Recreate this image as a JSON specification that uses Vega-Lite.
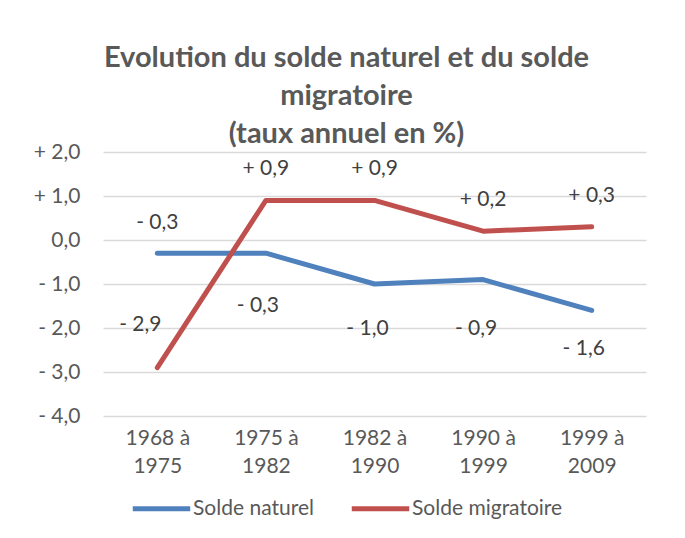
{
  "$schema": "https://vega.github.io/schema/vega-lite/v6.json",
  "autosize": "none",
  "width": 543,
  "height": 264,
  "padding": {"left": 103, "top": 152, "right": 39, "bottom": 122},
  "background": "white",
  "config": {
    "font": "Lato",
    "view": {"stroke": null},
    "title": {"font": "Lato", "fontSize": 29, "fontWeight": "bold", "color": "#595959", "lineHeight": 38},
    "axis": {"labelFont": "Lato", "labelFontSize": 21, "labelColor": "#595959"},
    "legend": {"labelFont": "Lato", "labelFontSize": 21, "labelColor": "#595959"}
  },
  "title": {
    "text": ["Evolution du solde naturel et du solde", "migratoire", "(taux annuel en %)"],
    "anchor": "middle",
    "frame": "group",
    "dx": -28,
    "offset": -8
  },
  "data": {
    "values": [
      {"period": "1968 à 1975", "series": "Solde naturel", "value": -0.3, "label": "- 0,3"},
      {"period": "1975 à 1982", "series": "Solde naturel", "value": -0.3, "label": "- 0,3"},
      {"period": "1982 à 1990", "series": "Solde naturel", "value": -1.0, "label": "- 1,0"},
      {"period": "1990 à 1999", "series": "Solde naturel", "value": -0.9, "label": "- 0,9"},
      {"period": "1999 à 2009", "series": "Solde naturel", "value": -1.6, "label": "- 1,6"},
      {"period": "1968 à 1975", "series": "Solde migratoire", "value": -2.9, "label": "- 2,9"},
      {"period": "1975 à 1982", "series": "Solde migratoire", "value": 0.9, "label": "+ 0,9"},
      {"period": "1982 à 1990", "series": "Solde migratoire", "value": 0.9, "label": "+ 0,9"},
      {"period": "1990 à 1999", "series": "Solde migratoire", "value": 0.2, "label": "+ 0,2"},
      {"period": "1999 à 2009", "series": "Solde migratoire", "value": 0.3, "label": "+ 0,3"}
    ]
  },
  "encoding": {
    "x": {
      "field": "period", "type": "nominal", "sort": null,
      "scale": {"type": "point", "padding": 0.5},
      "axis": {
        "title": null, "domain": false, "ticks": false, "grid": false, "labelAngle": 0,
        "labelPadding": 11, "labelLineHeight": 28,
        "labelExpr": "[slice(datum.label, 0, 6), slice(datum.label, 7)]"
      }
    },
    "y": {
      "field": "value", "type": "quantitative",
      "scale": {"domain": [-4, 2], "nice": false},
      "axis": {
        "title": null, "domain": false, "ticks": false, "values": [-4, -3, -2, -1, 0, 1, 2],
        "gridColor": "#d9d9d9", "gridWidth": 1.5, "labelPadding": 23,
        "labelExpr": "datum.value > 0 ? '+ ' + replace(format(datum.value, '.1f'), '.', ',') : (datum.value < 0 ? '- ' + replace(format(-datum.value, '.1f'), '.', ',') : '0,0')"
      }
    }
  },
  "layer": [
    {
      "mark": {"type": "line", "strokeWidth": 5, "strokeCap": "round", "strokeJoin": "round"},
      "encoding": {
        "color": {
          "field": "series", "type": "nominal",
          "scale": {"domain": ["Solde naturel", "Solde migratoire"], "range": ["#4f81bd", "#c0504d"]},
          "legend": {
            "title": null, "orient": "none", "direction": "horizontal",
            "legendX": 27, "legendY": 325,
            "symbolType": "stroke", "symbolSize": 3300, "symbolStrokeWidth": 5,
            "labelOffset": 0, "columnPadding": 27
          }
        }
      }
    },
    {
      "transform": [{"filter": "datum.series == 'Solde naturel' && datum.period == '1968 à 1975'"}],
      "mark": {"type": "text", "fontSize": 21, "color": "#404040", "dy": -30},
      "encoding": {"text": {"field": "label"}}
    },
    {
      "transform": [{"filter": "datum.series == 'Solde naturel' && datum.period == '1975 à 1982'"}],
      "mark": {"type": "text", "fontSize": 21, "color": "#404040", "dy": 53, "dx": -8},
      "encoding": {"text": {"field": "label"}}
    },
    {
      "transform": [{"filter": "datum.series == 'Solde naturel' && datum.period == '1982 à 1990'"}],
      "mark": {"type": "text", "fontSize": 21, "color": "#404040", "dy": 45, "dx": -7},
      "encoding": {"text": {"field": "label"}}
    },
    {
      "transform": [{"filter": "datum.series == 'Solde naturel' && datum.period == '1990 à 1999'"}],
      "mark": {"type": "text", "fontSize": 21, "color": "#404040", "dy": 49, "dx": -7},
      "encoding": {"text": {"field": "label"}}
    },
    {
      "transform": [{"filter": "datum.series == 'Solde naturel' && datum.period == '1999 à 2009'"}],
      "mark": {"type": "text", "fontSize": 21, "color": "#404040", "dy": 39, "dx": -8},
      "encoding": {"text": {"field": "label"}}
    },
    {
      "transform": [{"filter": "datum.series == 'Solde migratoire' && datum.period == '1968 à 1975'"}],
      "mark": {"type": "text", "fontSize": 21, "color": "#404040", "dy": -43, "dx": -17},
      "encoding": {"text": {"field": "label"}}
    },
    {
      "transform": [{"filter": "datum.series == 'Solde migratoire' && datum.period != '1968 à 1975'"}],
      "mark": {"type": "text", "fontSize": 21, "color": "#404040", "dy": -31},
      "encoding": {"text": {"field": "label"}}
    }
  ]
}
